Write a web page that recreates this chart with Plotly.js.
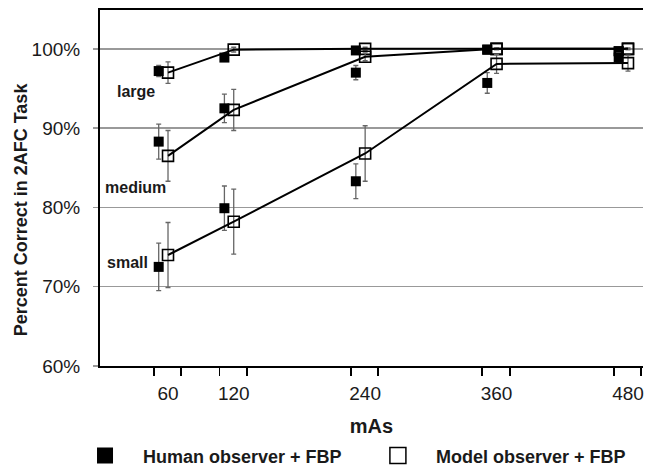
<!DOCTYPE html>
<html>
<head>
<meta charset="utf-8">
<script src="https://cdn.plot.ly/plotly-3.0.1.min.js"></script>
<style>html,body{margin:0;padding:0;background:#fff;}#chart{width:645px;height:468px;}</style>
</head>
<body>
<div id="chart"></div>
<script>
// mAs levels
const mAs = [60, 120, 240, 360, 480];
const tickLabels = ['60', '120', '240', '360', '480'];
const humanOffset = -8.5; // human points drawn slightly left of each level

// Human observer + FBP (percent correct, error half-widths)
const humanLarge = [97.2, 98.9, 99.8, 99.9, 99.7];
const humanLargeErr = [0.7, 0.4, 0.3, 0.2, 0.2];
const humanMedium = [88.3, 92.5, 97.0, 99.9, 99.7];
const humanMediumErr = [2.2, 1.8, 0.9, 0.2, 0.3];
const humanSmall = [72.5, 79.9, 83.3, 95.7, 98.9];
const humanSmallErr = [3.0, 2.8, 2.2, 1.3, 0.6];

// Model observer + FBP
const modelLarge = [97.0, 99.9, 100.0, 100.0, 100.0];
const modelLargeErr = [1.35, 0.3, 0.2, 0.1, 0.1];
const modelMedium = [86.5, 92.3, 99.0, 100.0, 100.0];
const modelMediumErr = [3.2, 2.6, 0.5, 0.1, 0.1];
const modelSmall = [74.0, 78.2, 86.8, 98.1, 98.2];
const modelSmallErr = [4.1, 4.1, 3.5, 1.2, 1.0];

const sizeLabels = ['large', 'medium', 'small'];
const sizeLabelX = [31, 30, 23];
const sizeLabelY = [94.6, 82.5, 73.0];

const humanX = mAs.map(v => v + humanOffset);
const errStyle = (arr) => ({type: 'data', array: arr, visible: true, color: '#666', thickness: 1.3, width: 2.5});

function humanTrace(y, e) {
  return {x: humanX, y: y, mode: 'markers', type: 'scatter', showlegend: false,
    marker: {symbol: 'square', size: 10, color: '#000'}, error_y: errStyle(e), hoverinfo: 'skip'};
}
function modelTrace(y, e) {
  return {x: mAs, y: y, mode: 'lines+markers', type: 'scatter', showlegend: false,
    line: {color: '#000', width: 2},
    marker: {symbol: 'square-open', size: 11, color: '#000', line: {width: 1.6, color: '#000'}},
    error_y: errStyle(e), hoverinfo: 'skip'};
}

const traces = [
  humanTrace(humanLarge, humanLargeErr),
  humanTrace(humanMedium, humanMediumErr),
  humanTrace(humanSmall, humanSmallErr),
  modelTrace(modelLarge, modelLargeErr),
  modelTrace(modelMedium, modelMediumErr),
  modelTrace(modelSmall, modelSmallErr),
  {x: [null], y: [null], mode: 'markers', type: 'scatter', name: 'Human observer + FBP', legend: 'legend',
    marker: {symbol: 'square', size: 16, color: '#000'}},
  {x: [null], y: [null], mode: 'markers', type: 'scatter', name: 'Model observer + FBP', legend: 'legend2',
    marker: {symbol: 'square-open', size: 16, color: '#000', line: {width: 1.5, color: '#000'}}}
];

const minorTicks = [];
mAs.forEach(v => { minorTicks.push(v - 13); minorTicks.push(v + 12); });

const annotations = sizeLabels.map((t, i) => ({
  x: sizeLabelX[i], y: sizeLabelY[i], xref: 'x', yref: 'y', text: t, showarrow: false,
  font: {family: 'Liberation Sans, Arial, sans-serif', size: 16, color: '#1a1a1a', weight: 'bold'}
}));
annotations.push({
  x: -0.1455, y: 0.44, xref: 'paper', yref: 'paper', text: 'Percent Correct in 2AFC Task',
  textangle: -90, showarrow: false, xanchor: 'center', yanchor: 'middle',
  font: {family: 'Liberation Sans, Arial, sans-serif', size: 18, color: '#1a1a1a', weight: 'bold'}
});

const legendBase = {
  orientation: 'h', xref: 'container', yref: 'container', y: 0.026,
  xanchor: 'left', yanchor: 'middle', itemwidth: 66,
  font: {size: 18, weight: 'bold', color: '#1a1a1a'}, bgcolor: 'rgba(0,0,0,0)'
};

const layout = {
  width: 645, height: 468,
  margin: {l: 100, r: 2, t: 10, b: 102},
  paper_bgcolor: '#fff', plot_bgcolor: '#fff',
  font: {family: 'Liberation Sans, Arial, sans-serif', color: '#1a1a1a'},
  xaxis: {
    range: [-2.1, 493.7], tickmode: 'array', tickvals: mAs, ticktext: tickLabels,
    ticks: '', showgrid: false, zeroline: false,
    showline: true, linecolor: '#000', linewidth: 2, mirror: true,
    tickfont: {size: 19, color: '#1a1a1a'}, ticklabelstandoff: 9,
    minor: {tickvals: minorTicks, ticks: 'outside', ticklen: 8, tickwidth: 1.8, tickcolor: '#000', showgrid: false},
    title: {text: 'mAs', font: {size: 20, weight: 'bold', color: '#1a1a1a'}, standoff: 21}
  },
  yaxis: {
    range: [60, 104.9], tickmode: 'array', tickvals: [60, 70, 80, 90, 100],
    ticktext: ['60%', '70%', '80%', '90%', '100%'],
    ticks: 'outside', ticklen: 5, tickcolor: '#999', tickwidth: 1.5,
    showgrid: true, gridcolor: '#999', gridwidth: 1.5, zeroline: false,
    showline: true, linecolor: '#000', linewidth: 2,
    tickfont: {size: 19, color: '#1a1a1a'}, ticklabelstandoff: 9
  },
  showlegend: true,
  legend: Object.assign({}, legendBase, {x: 0.1039}),
  legend2: Object.assign({}, legendBase, {x: 0.558}),
  annotations: annotations
};

Plotly.newPlot('chart', traces, layout, {displayModeBar: false, staticPlot: true});
</script>
</body>
</html>
